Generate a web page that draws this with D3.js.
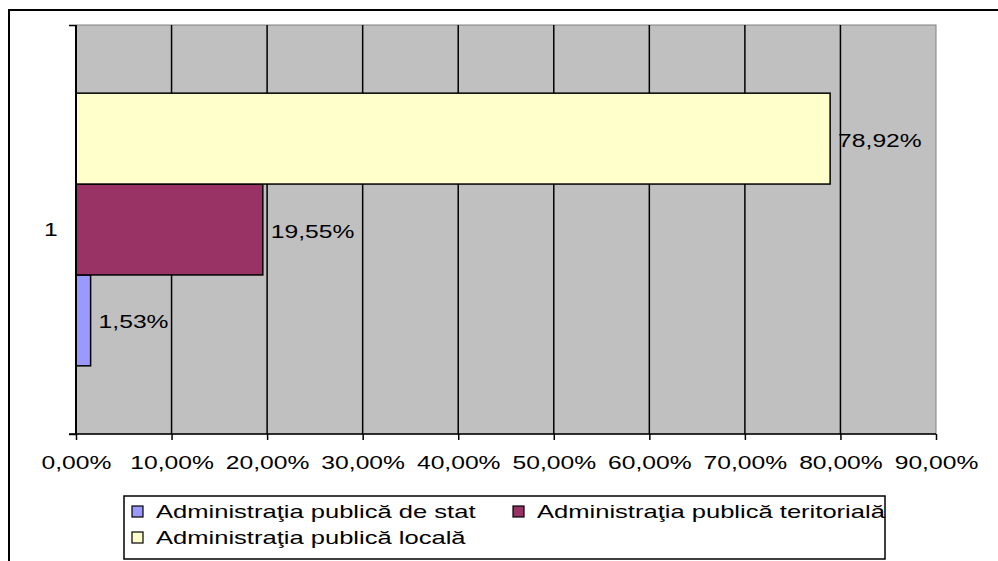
<!DOCTYPE html>
<html>
<head>
<meta charset="utf-8">
<script src="https://cdn.jsdelivr.net/npm/d3@7"></script>
<style>
  body { margin: 0; background: #fff; }
  svg { display: block; }
  text { font-family: "Liberation Sans", Arial, sans-serif; fill: #000; }
</style>
</head>
<body>
<svg width="998" height="561"></svg>
<script>
// data
var categories = ["1"];
var seriesNames = ["Administraţia publică de stat", "Administraţia publică teritorială", "Administraţia publică locală"];
var seriesValues = [1.53, 19.55, 78.92];
var seriesColors = ["#9999ff", "#993366", "#ffffcc"];
var xTicks = [0, 10, 20, 30, 40, 50, 60, 70, 80, 90];

var svg = d3.select("svg");
var SX = 1.37; // the source text is stretched sideways

var plotL = 76, plotR = 936, plotT = 25, plotB = 434;

var fmt = function(v) { return d3.format(".2f")(v).replace(".", ",") + "%"; };

// outer chart frame (cut off at right and bottom)
svg.append("path")
  .attr("d", "M9,561 V10 H998")
  .attr("fill", "none").attr("stroke", "#000").attr("stroke-width", 2);

var x = d3.scaleLinear().domain([0, 90]).range([plotL, plotR]);
var y = d3.scaleBand().domain(categories).range([plotT, plotB]);
var inner = d3.scaleBand().domain(seriesNames.slice().reverse())
  .range([0, y.bandwidth()]).paddingInner(0).paddingOuter(0.75);

// plot area
svg.append("rect")
  .attr("x", plotL).attr("y", plotT)
  .attr("width", plotR - plotL).attr("height", plotB - plotT)
  .attr("fill", "#c0c0c0").attr("stroke", "#808080").attr("stroke-width", 1);

// vertical gridlines
svg.append("g").selectAll("line")
  .data(xTicks.filter(function(d) { return d > 0 && d < 90; }))
  .enter().append("line")
  .attr("x1", function(d) { return x(d); }).attr("x2", function(d) { return x(d); })
  .attr("y1", plotT).attr("y2", plotB)
  .attr("stroke", "#000").attr("stroke-width", 1.5);

// bars
var g = svg.append("g");
seriesNames.forEach(function(name, i) {
  var by = y(categories[0]) + inner(name);
  g.append("rect")
    .attr("x", x(0)).attr("y", by)
    .attr("width", x(seriesValues[i]) - x(0))
    .attr("height", inner.bandwidth())
    .attr("fill", seriesColors[i])
    .attr("stroke", "#000").attr("stroke-width", 1.5);
  g.append("text")
    .attr("transform", "translate(" + (x(seriesValues[i]) + 8) + "," + (by + inner.bandwidth() / 2 + 8) + ") scale(" + SX + ",1)")
    .style("font-size", "18px")
    .text(fmt(seriesValues[i]));
});

// x axis
var xAxis = svg.append("g")
  .attr("transform", "translate(0," + plotB + ")")
  .call(d3.axisBottom(x).tickValues(xTicks).tickSize(6).tickPadding(0).tickFormat(fmt));
xAxis.select(".domain").remove();
xAxis.selectAll(".tick line").attr("stroke", "#000").attr("stroke-width", 1.5);
xAxis.selectAll(".tick text").remove();
xAxis.selectAll(".tick").append("text")
  .attr("transform", "translate(0,35) scale(" + SX + ",1)")
  .attr("text-anchor", "middle")
  .style("font-size", "18px")
  .text(function(d) { return fmt(d); });
svg.append("line")
  .attr("x1", plotL - 7).attr("x2", plotR).attr("y1", plotB).attr("y2", plotB)
  .attr("stroke", "#000").attr("stroke-width", 1.5);

// y axis
var yAxis = svg.append("g")
  .attr("transform", "translate(" + plotL + ",0)")
  .call(d3.axisLeft(d3.scaleLinear().range([plotT, plotB])).tickValues([0, 1]).tickSize(7).tickFormat(""));
yAxis.select(".domain").remove();
yAxis.selectAll(".tick line").attr("stroke", "#000").attr("stroke-width", 1.5);
svg.append("line")
  .attr("x1", plotL).attr("x2", plotL).attr("y1", plotT).attr("y2", plotB)
  .attr("stroke", "#000").attr("stroke-width", 2);
svg.append("text")
  .attr("transform", "translate(44," + (y(categories[0]) + y.bandwidth() / 2 + 6) + ") scale(" + SX + ",1)")
  .style("font-size", "18px")
  .text(categories[0]);

// legend
var legend = svg.append("g");
legend.append("rect")
  .attr("x", 124).attr("y", 496).attr("width", 761).attr("height", 63)
  .attr("fill", "#fff").attr("stroke", "#000").attr("stroke-width", 1.5);
var legendPos = [[132, 506], [513, 506], [132, 532]];
seriesNames.forEach(function(name, i) {
  var p = legendPos[i];
  legend.append("rect")
    .attr("x", p[0]).attr("y", p[1]).attr("width", 11).attr("height", 11)
    .attr("fill", seriesColors[i]).attr("stroke", "#000").attr("stroke-width", 1.2);
  legend.append("text")
    .attr("transform", "translate(" + (p[0] + 24) + "," + (p[1] + 12) + ") scale(1.42,1)")
    .style("font-size", "18px")
    .text(name);
});
</script>
</body>
</html>
